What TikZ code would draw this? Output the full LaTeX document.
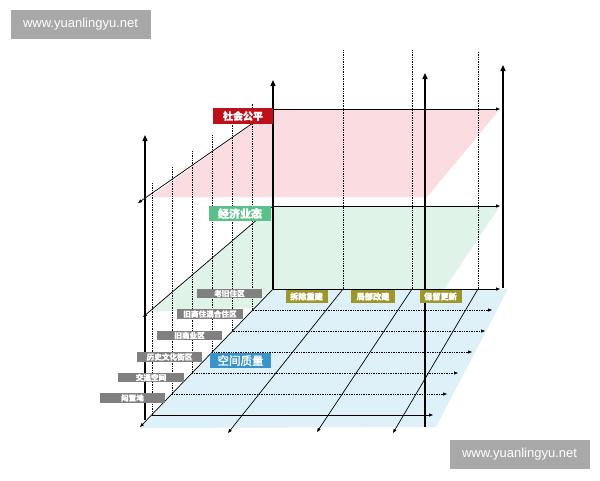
\documentclass[tikz,border=0pt]{standalone}
\usepackage{fontspec}
\setmainfont{Liberation Sans}
\newfontfamily\cjk{Noto Sans CJK SC}[FakeBold=1.6]
\usetikzlibrary{arrows.meta}
\definecolor{pinkfill}{RGB}{251,220,224}
\definecolor{greenfill}{RGB}{224,243,232}
\definecolor{bluefill}{RGB}{222,241,249}
\definecolor{redlbl}{RGB}{190,16,26}
\definecolor{greenlbl}{RGB}{92,192,138}
\definecolor{bluelbl}{RGB}{58,148,204}
\definecolor{graylbl}{RGB}{128,128,128}
\definecolor{olivelbl}{RGB}{158,150,42}
\definecolor{wmgray}{RGB}{168,168,168}
\begin{document}
\begin{tikzpicture}[x=1pt,y=-1pt,
  axis/.style={line width=1.3pt,-{Triangle[length=6pt,width=5pt]}},
  thinarrow/.style={line width=0.7pt,-{Triangle[length=4pt,width=3pt]}},
  dotarrow/.style={line width=0.7pt,densely dotted,-{Triangle[length=4pt,width=3pt]}},
  dotline/.style={line width=0.7pt,densely dotted},
  lbl/.style={inner sep=0pt,text=white,anchor=center},
  graybox/.style={lbl,fill=graylbl,font=\cjk\bfseries\fontsize{7.6}{8}\selectfont},
  olivebox/.style={lbl,fill=olivelbl,minimum width=42pt,minimum height=13pt,font=\cjk\bfseries\fontsize{8.2}{9}\selectfont},
  wm/.style={lbl,fill=wmgray,minimum width=140pt,minimum height=29pt,font=\fontsize{13}{14}\selectfont}]
\fill[white] (0,0) rectangle (600,480);
\useasboundingbox (0,0) rectangle (600,480);

% fills
\fill[pinkfill] (273,109) -- (500,109) -- (427,197) -- (150,197) -- cycle;
\fill[greenfill] (273,206) -- (500,206) -- (437,300) -- (148,312) -- cycle;
\fill[bluefill] (273,289) -- (508,289) -- (436,427) -- (140,428) -- cycle;

% key coordinates
\coordinate (O1) at (273,109);
\coordinate (O2) at (273,206);
\coordinate (O3) at (273,289);
\coordinate (P1) at (500,109);
\coordinate (P2) at (500,206);
\coordinate (P3) at (500,289);
\coordinate (Pd) at (138,203);
\coordinate (Gd) at (143,317);
\coordinate (Fd) at (140,427);
\coordinate (Atop) at (273,80);
\coordinate (Bbot) at (425,427);
\coordinate (Btop) at (425,73);
\coordinate (Cbot) at (503,288);
\coordinate (Ctop) at (503,65);
\coordinate (Dbot) at (145,420);
\coordinate (Dtop) at (145,135);
% back-edge points and their front ends
\coordinate (b1) at (343,289); \coordinate (f1) at (228,433); \coordinate (u1) at (343,50);
\coordinate (b2) at (412,289); \coordinate (f2) at (317,432); \coordinate (u2) at (412,50);
\coordinate (b3) at (478,289); \coordinate (f3) at (393,433); \coordinate (u3) at (478,52);
% left grid points
\foreach \i/\xe in {1/492,2/485,3/472,4/458,5/447,6/433}{
  \coordinate (g\i) at ({273-20.17*\i},{289+21*\i});
  \coordinate (t\i) at ({273-20.17*\i},{103+16*(\i-1)});
  \coordinate (e\i) at (\xe,{289+21*\i});
}

% dotted verticals
\foreach \i in {1,2,3}{ \draw[dotline] (b\i) -- (u\i); }
\foreach \i in {1,...,6}{ \draw[dotline] (g\i) -- (t\i); }

% floor grid rows
\foreach \i in {1,...,5}{ \draw[dotarrow] (g\i) -- (e\i); }
\draw[thinarrow] (g6) -- (e6);

% horizontal plane edges
\draw[thinarrow] (O1) -- (P1);
\draw[thinarrow] (O2) -- (P2);
\draw[thinarrow] (O3) -- (P3);

% diagonals
\draw[thinarrow] (O1) -- (Pd);
\draw[thinarrow] (O2) -- (Gd);
\draw[thinarrow] (O3) -- (Fd);
\foreach \i in {1,2,3}{ \draw[thinarrow] (b\i) -- (f\i); }

% main axes
\draw[axis] (O3) -- (Atop);
\draw[axis] (Bbot) -- (Btop);
\draw[axis] (Cbot) -- (Ctop);
\draw[axis] (Dbot) -- (Dtop);

% plane labels
\node[lbl,fill=redlbl,minimum width=60pt,minimum height=16pt,font=\cjk\bfseries\fontsize{10}{11}\selectfont] (soc) at (243,116) {社会公平};
\node[lbl,fill=greenlbl,minimum width=62pt,minimum height=15pt,font=\cjk\bfseries\fontsize{11}{12}\selectfont] (eco) at (240,213.5) {经济业态};
\node[lbl,fill=bluelbl,minimum width=61pt,minimum height=15pt,font=\cjk\fontsize{11.5}{12}\selectfont] (spa) at (240.5,360.5) {空间质量};

% area-type labels
\node[graybox,minimum width=65pt,minimum height=9.5pt] (l1) at (229.5,293.5) {老旧住区};
\node[graybox,minimum width=66pt,minimum height=10pt] (l2) at (210,314) {旧商住混合住区};
\node[graybox,minimum width=65pt,minimum height=9.5pt] (l3) at (189.5,335.5) {旧商业区};
\node[graybox,minimum width=65pt,minimum height=10pt] (l4) at (169.5,357) {历史文化街区};
\node[graybox,minimum width=66pt,minimum height=9.5pt] (l5) at (151,377.5) {交通空间};
\node[graybox,minimum width=65pt,minimum height=9.5pt] (l6) at (132.5,398) {闲置地};

% renewal-mode labels
\node[olivebox] (m1) at (306.5,296.5) {拆除重建};
\node[olivebox,minimum width=44pt] (m2) at (373,296.5) {局部改建};
\node[olivebox] (m3) at (440.5,296.5) {保留更新};

% watermarks
\node[wm] (w1) at (80.5,24.5) {www.yuanlingyu.net};
\node[wm] (w2) at (519.5,454.5) {www.yuanlingyu.net};
\end{tikzpicture}
\end{document}
